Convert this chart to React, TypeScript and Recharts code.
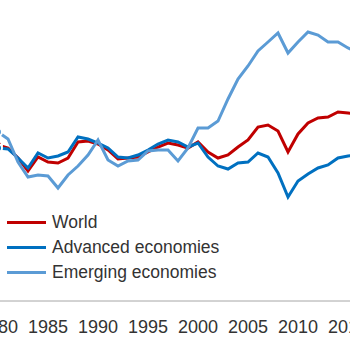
import { LineChart, Line, XAxis, YAxis } from "recharts";

// yearly values (y axis not shown, arbitrary index units)
const years = Array.from({ length: 37 }, (_, i) => 1980 + i);

const world = [
  156, 153, 143, 130, 144, 139, 138, 143, 159, 160,
  157, 151, 142, 143, 144, 149, 154, 158, 156, 153,
  159, 149, 143, 146, 154, 161, 174, 176, 170, 149,
  167, 178, 183, 184, 189, 188, 187,
];

const advanced = [
  153, 152, 143, 133, 148, 143, 145, 149, 164, 162,
  158, 153, 144, 143, 146, 151, 157, 161, 159, 154,
  158, 144, 135, 132, 138, 139, 148, 144, 128, 104,
  120, 127, 133, 136, 143, 145, 146,
];

const emerging = [
  169, 162, 139, 124, 126, 125, 113, 126, 135, 146,
  161, 141, 135, 140, 141, 150, 151, 151, 140, 153,
  173, 173, 180, 202, 222, 235, 250, 259, 268, 248,
  259, 269, 266, 259, 259, 253, 249,
];

const xTicks = [1980, 1985, 1990, 1995, 2000, 2005, 2010, 2015];

const series = [
  { key: "world", name: "World", color: "#C00000" },
  { key: "advanced", name: "Advanced economies", color: "#0070C0" },
  { key: "emerging", name: "Emerging economies", color: "#5B9BD5" },
];

const data = years.map((year, i) => ({
  year,
  world: world[i],
  advanced: advanced[i],
  emerging: emerging[i],
}));

const FONT = "'Liberation Sans', Arial, sans-serif";

function LegendBox() {
  return (
    <div
      style={{ position: "absolute", left: 7, top: 209.5, fontFamily: FONT, fontSize: 17.5, color: "#333" }}
    >
      {series.map((s) => (
        <div
          key={s.key}
          style={{ display: "flex", alignItems: "center", height: 25, lineHeight: "25px", whiteSpace: "nowrap" }}
        >
          <span
            style={{ display: "inline-block", width: 39, height: 3, background: s.color, marginRight: 6 }}
          />
          <span>{s.name}</span>
        </div>
      ))}
    </div>
  );
}

export default function App() {
  return (
    <div style={{ position: "absolute", left: 0, top: 0, width: 350, height: 350, overflow: "hidden", background: "#fff" }}>
      <div style={{ position: "absolute", left: -12, top: 0 }}>
        <LineChart
          width={380}
          height={350}
          data={data}
          margin={{ top: 0, right: 10, bottom: 0, left: 10 }}
        >
          <XAxis
            dataKey="year"
            type="number"
            domain={[1980, 2016]}
            ticks={xTicks}
            height={49}
            tickLine={false}
            tickMargin={13}
            axisLine={{ stroke: "#A6A6A6", strokeWidth: 1 }}
            tick={{ fill: "#333", fontSize: 18, fontFamily: FONT }}
            interval={0}
          />
          <YAxis hide width={0} domain={[0, 301]} />
          {series.map((s) => (
            <Line
              key={s.key}
              type="linear"
              dataKey={s.key}
              name={s.name}
              stroke={s.color}
              strokeWidth={3}
              dot={false}
              isAnimationActive={false}
            />
          ))}
        </LineChart>
      </div>
      <LegendBox />
    </div>
  );
}
